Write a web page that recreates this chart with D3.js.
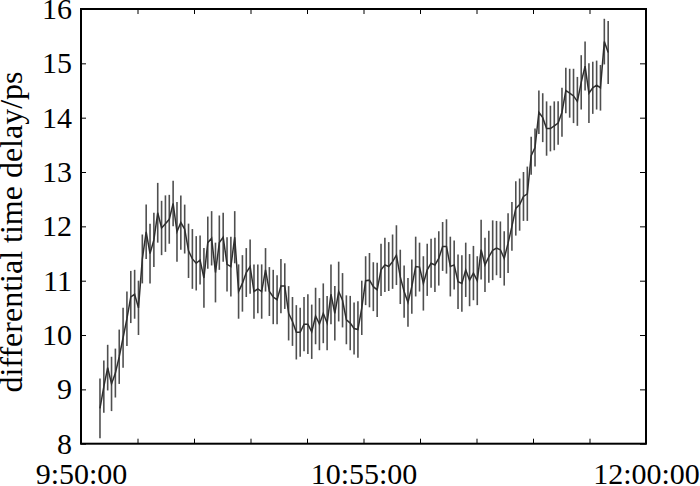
<!DOCTYPE html>
<html><head><meta charset="utf-8">
<script src="https://cdn.jsdelivr.net/npm/d3@7/dist/d3.min.js"></script>
<style>body{margin:0;background:#fff}svg{display:block}text{font-family:"Liberation Serif","DejaVu Serif",serif}</style>
</head><body><svg id="c" width="700" height="486"></svg>
<script>
// ---- data ----
const axisStart = "09:50:00";
const axisEnd = "12:00:00";
const tickLabels = ["9:50:00", "10:55:00", "12:00:00"];
const yTicks = [8, 9, 10, 11, 12, 13, 14, 15, 16];
const sampleStart = "09:54:22";
const sampleStepSeconds = 53.15;
const delay = [
 8.65, 9.05, 9.4, 9.1, 9.3, 9.6, 9.95, 10.3, 10.7, 10.75,
 10.5, 11.4, 11.9, 11.5, 11.75, 12.25, 11.97, 12.05, 12.13, 12.42,
 11.9, 12.07, 11.95, 11.55, 11.4, 11.32, 11.38, 11.05, 11.7, 11.78,
 11.15, 11.7, 11.8, 11.3, 11.26, 11.8, 10.8, 10.95, 11.15, 11.26,
 10.8, 10.85, 10.8, 11.2, 10.8, 10.7, 10.65, 10.9, 10.9, 10.4,
 10.25, 10.05, 10.05, 10.2, 10.2, 10.06, 10.35, 10.2, 10.4, 10.22,
 10.75, 10.4, 10.8, 10.64, 10.28, 10.22, 10.12, 10.1, 10.5, 11.0,
 11.01, 10.89, 10.83, 11.2, 11.29, 11.26, 11.35, 11.47, 11.07, 10.8,
 10.6, 10.89, 11.26, 11.25, 10.95, 11.2, 11.32, 11.29, 11.41, 11.63,
 11.63, 11.26, 11.29, 10.98, 10.95, 11.2, 11.01, 11.14, 11.0, 11.57,
 11.29, 11.44, 11.56, 11.6, 11.57, 11.41, 11.69, 12.0, 12.33, 12.4,
 12.55, 12.6, 13.3, 13.45, 14.1, 14.0, 13.8, 13.8, 13.85, 13.9,
 14.1, 14.5, 14.45, 14.4, 14.3, 14.65, 14.95, 14.45, 14.55, 14.6,
 14.55, 15.4, 15.2
];
const delayErr = [
 0.55,0.48,0.42,0.5,0.45,0.5,0.55,0.5,0.48,0.45,
 0.5,0.45,0.5,0.55,0.5,0.55,0.5,0.52,0.45,0.42,
 0.55,0.5,0.45,0.5,0.55,0.5,0.45,0.55,0.48,0.5,
 0.55,0.5,0.45,0.5,0.55,0.48,0.5,0.52,0.45,0.5,
 0.5,0.45,0.5,0.4,0.45,0.5,0.45,0.5,0.42,0.5,
 0.45,0.5,0.45,0.5,0.55,0.5,0.52,0.48,0.55,0.5,
 0.55,0.5,0.55,0.5,0.45,0.5,0.48,0.52,0.5,0.45,
 0.5,0.45,0.5,0.48,0.5,0.45,0.5,0.55,0.5,0.48,
 0.45,0.5,0.55,0.45,0.5,0.48,0.45,0.5,0.5,0.45,
 0.5,0.55,0.45,0.5,0.52,0.5,0.48,0.5,0.45,0.55,
 0.5,0.48,0.55,0.5,0.52,0.5,0.55,0.45,0.5,0.48,
 0.45,0.5,0.35,0.35,0.4,0.45,0.5,0.42,0.45,0.4,
 0.45,0.42,0.45,0.5,0.45,0.5,0.45,0.55,0.48,0.45,
 0.42,0.42,0.58
];
const yTitle = "differential time delay/ps";

// ---- chart ----
const parse = d3.timeParse("%H:%M:%S");
const t0 = parse(axisStart), t1 = parse(axisEnd), s0 = parse(sampleStart);
const pts = delay.map((v, i) => ({t: new Date(+s0 + i * sampleStepSeconds * 1000), v, e: delayErr[i]}));

const L = 81, R = 646, T = 9, B = 443.7;
const x = d3.scaleTime().domain([t0, t1]).range([L, R]);
const y = d3.scaleLinear().domain([8, 16]).range([B, T]);
const svg = d3.select("#c");

const xTickVals = d3.range(0, 11).map(k => new Date(+t0 + k * 13 * 60000));
const fmt = d3.timeFormat("%-H:%M:%S");
const labelSet = new Set(tickLabels);

// error bars
svg.append("g").selectAll("line").data(pts).join("line")
  .attr("x1", d => x(d.t)).attr("x2", d => x(d.t))
  .attr("y1", d => y(d.v - d.e)).attr("y2", d => y(d.v + d.e))
  .attr("stroke", "#4f4f4f").attr("stroke-width", 1.6);

// center line
svg.append("path").datum(pts)
  .attr("d", d3.line().x(d => x(d.t)).y(d => y(d.v)))
  .attr("fill", "none").attr("stroke", "#2e2e2e").attr("stroke-width", 1.5);

// axes
const ax = g => g.selectAll(".domain").remove();
svg.append("g").attr("transform", `translate(0,${B})`)
  .call(d3.axisBottom(x).tickValues(xTickVals).tickSizeInner(-5).tickSizeOuter(0).tickPadding(19)
    .tickFormat(d => labelSet.has(fmt(d)) ? fmt(d) : ""))
  .call(ax)
  .call(g => g.selectAll("text").attr("font-size", 30).attr("fill", "#000").attr("font-family", "Liberation Serif"))
  .call(g => g.selectAll("line").attr("stroke", "#000"));
svg.append("g").attr("transform", `translate(0,${T})`)
  .call(d3.axisTop(x).tickValues(xTickVals).tickSizeInner(-5).tickSizeOuter(0).tickFormat(""))
  .call(ax).call(g => g.selectAll("line").attr("stroke", "#000"));
svg.append("g").attr("transform", `translate(${L},0)`)
  .call(d3.axisLeft(y).tickValues(yTicks).tickSizeInner(-5).tickSizeOuter(0).tickPadding(9).tickFormat(d3.format("d")))
  .call(ax)
  .call(g => g.selectAll("text").attr("font-size", 30).attr("fill", "#000").attr("font-family", "Liberation Serif"))
  .call(g => g.selectAll("line").attr("stroke", "#000"));
svg.append("g").attr("transform", `translate(${R},0)`)
  .call(d3.axisRight(y).tickValues(yTicks).tickSizeInner(-6).tickSizeOuter(0).tickFormat(""))
  .call(ax).call(g => g.selectAll("line").attr("stroke", "#000"));

svg.append("rect").attr("x", L).attr("y", T).attr("width", R - L).attr("height", B - T)
  .attr("fill", "none").attr("stroke", "#000").attr("stroke-width", 2);

svg.append("text").attr("transform", `translate(22,232) rotate(-90)`)
  .attr("text-anchor", "middle").attr("font-size", 32).attr("fill", "#000").text(yTitle);
</script></body></html>
